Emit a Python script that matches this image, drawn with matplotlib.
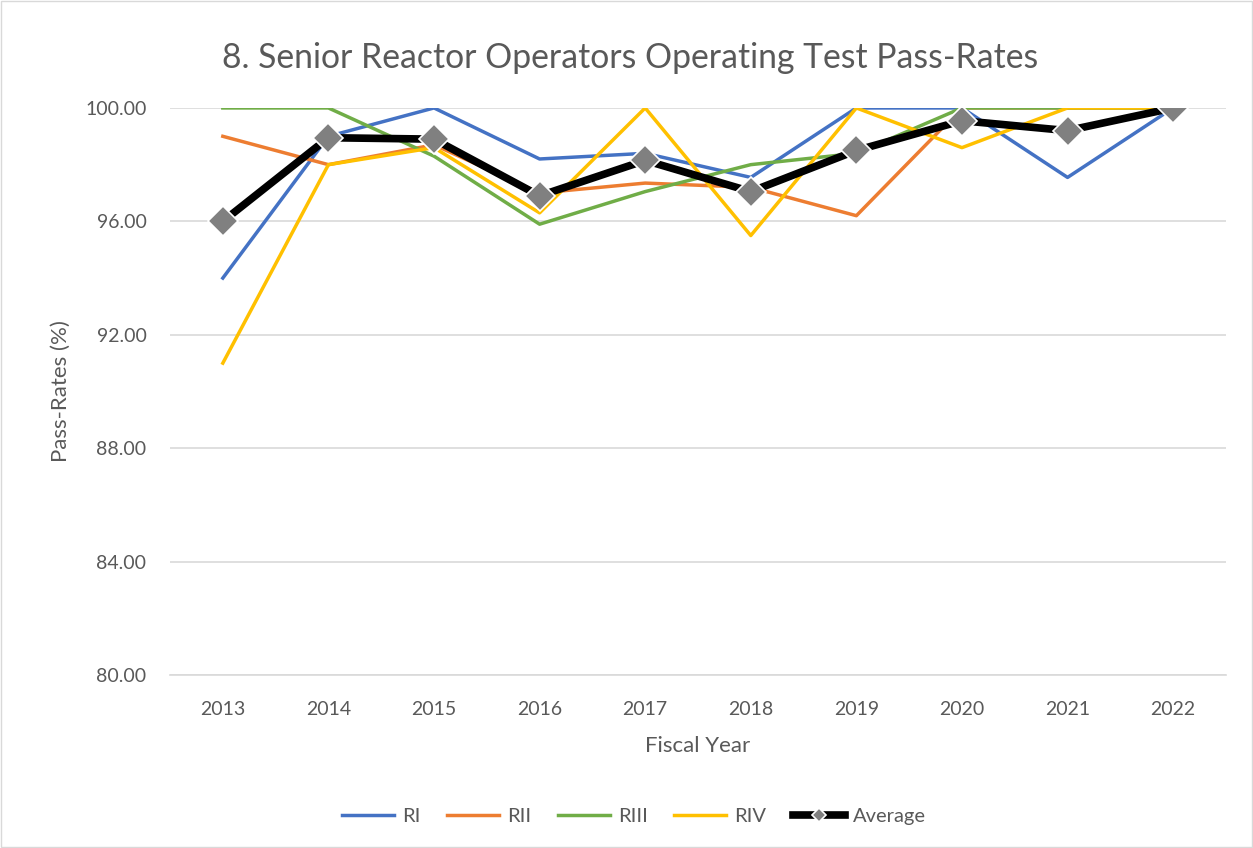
import matplotlib.pyplot as plt
from matplotlib.patches import Rectangle

plt.rcParams['font.family'] = ['Lato', 'DejaVu Sans']

years = ['2013', '2014', '2015', '2016', '2017', '2018', '2019', '2020', '2021', '2022']
ri = [94.0, 99.0, 100.0, 98.2, 98.4, 97.55, 100.0, 100.0, 97.55, 100.0]
rii = [99.0, 98.0, 98.7, 97.0, 97.35, 97.2, 96.2, 100.0, 100.0, 100.0]
riii = [100.0, 100.0, 98.3, 95.9, 97.05, 98.0, 98.4, 100.0, 100.0, 100.0]
riv = [91.0, 98.0, 98.6, 96.3, 100.0, 95.5, 100.0, 98.6, 100.0, 100.0]
average = [96.0, 98.95, 98.9, 96.9, 98.15, 97.05, 98.5, 99.55, 99.2, 100.0]

fig = plt.figure(figsize=(12.53, 8.48), dpi=100)
ax = fig.add_axes([0.1357, 0.204, 0.8427, 0.6687])
x = range(len(years))

ax.plot(x, ri, color='#4472C4', lw=2.5, label='RI')
ax.plot(x, rii, color='#ED7D31', lw=2.5, label='RII')
ax.plot(x, riii, color='#70AD47', lw=2.5, label='RIII')
ax.plot(x, riv, color='#FFC000', lw=2.5, label='RIV')
ax.plot(x, average, color='black', lw=5.5, marker='D', markersize=15,
        markerfacecolor='#808080', markeredgecolor='white', markeredgewidth=1.2,
        label='Average', zorder=5)

ax.set_xlim(-0.5, 9.5)
ax.set_ylim(80, 100)
ax.set_yticks([80, 84, 88, 92, 96, 100])
ax.set_yticklabels(['%.2f' % v for v in [80, 84, 88, 92, 96, 100]])
ax.set_xticks(list(x))
ax.set_xticklabels(years)
ax.grid(axis='y', color='#d9d9d9', lw=1.2)
ax.set_axisbelow(True)
for s in ['top', 'right', 'left']:
    ax.spines[s].set_visible(False)
ax.spines['bottom'].set_color('#d9d9d9')
ax.spines['bottom'].set_linewidth(1.2)
ax.tick_params(length=0, labelsize=14, labelcolor='#595959')
ax.tick_params(axis='x', pad=19)
ax.tick_params(axis='y', pad=17)
ax.set_xlabel('Fiscal Year', fontsize=16, color='#595959', labelpad=13)
ax.set_ylabel('Pass-Rates (%)', fontsize=16, color='#595959', labelpad=10)

fig.text(0.503, 0.932, '8. Senior Reactor Operators Operating Test Pass-Rates',
         ha='center', va='center', fontsize=24.3, color='#595959')

leg = fig.legend(loc='center', bbox_to_anchor=(0.506, 0.037), ncol=5, frameon=False,
                 fontsize=14.5, handlelength=2.6, columnspacing=1.3, handletextpad=0.4,
                 markerscale=0.45)
for t in leg.get_texts():
    t.set_color('#595959')

fig.patches.append(Rectangle((0.001, 0.001), 0.998, 0.998, transform=fig.transFigure,
                             fill=False, edgecolor='#d9d9d9', lw=1))

plt.savefig('out.png', dpi=100)
